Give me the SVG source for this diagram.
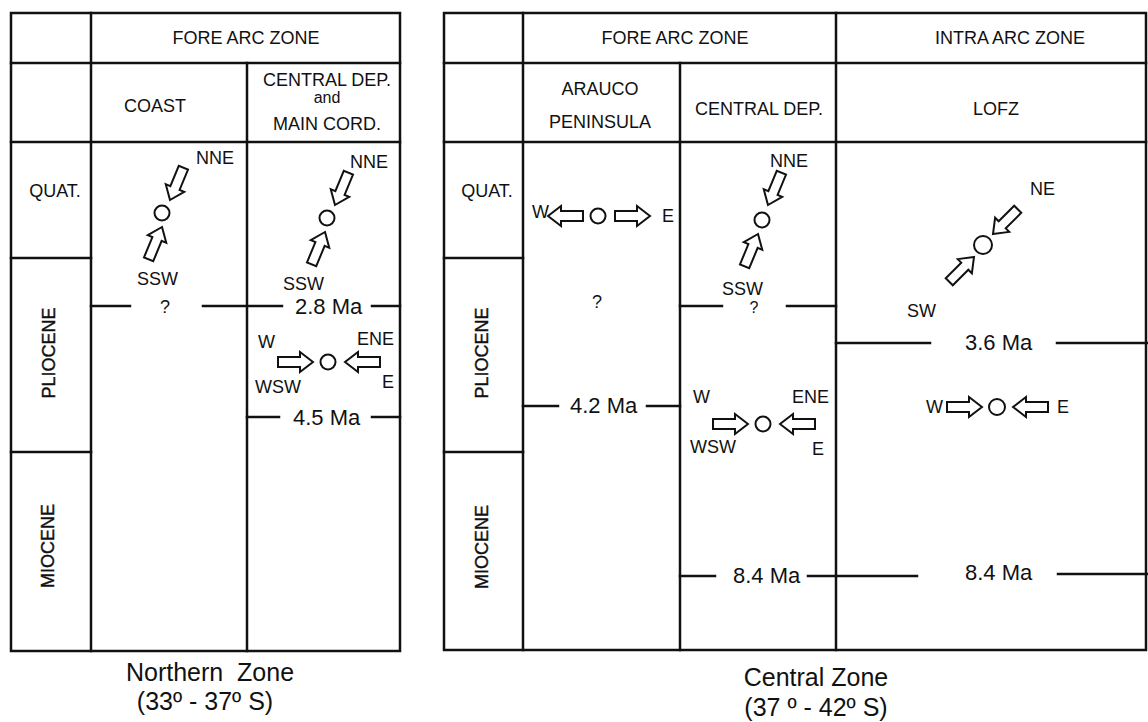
<svg xmlns="http://www.w3.org/2000/svg" xmlns:xlink="http://www.w3.org/1999/xlink" width="1148" height="722" viewBox="0 0 1148 722">
<style>
.ln{stroke:#111;stroke-width:2.5;fill:none;stroke-linecap:square}
.t{font-family:"Liberation Sans",Arial,sans-serif;fill:#111;font-size:18px}
.c{text-anchor:middle}
.ma{font-size:22px}
.cap{font-size:25px;text-anchor:middle}
.ep{text-anchor:middle;dominant-baseline:central;font-size:18px;stroke:#111;stroke-width:0.4}
.ar{fill:#fff;stroke:#111;stroke-width:2;stroke-linejoin:miter}
.ci{fill:#fff;stroke:#111;stroke-width:2}
</style>
<defs>
<path id="arr" d="M0,0 L-13,-10 L-13,-5 L-35,-5 L-35,5 L-13,5 L-13,10 Z"/>
</defs>
<rect width="1148" height="722" fill="#fff"/>

<g id="northern-zone">
  <g id="north-grid" class="ln">
    <rect x="11" y="13" width="389" height="638"/>
    <line x1="11" y1="63" x2="400" y2="63"/>
    <line x1="11" y1="142" x2="400" y2="142"/>
    <line x1="91" y1="13" x2="91" y2="651"/>
    <line x1="247" y1="63" x2="247" y2="651"/>
    <line x1="11" y1="258" x2="91" y2="258"/>
    <line x1="11" y1="452" x2="91" y2="452"/>
  </g>
  <g id="north-headers" class="t">
    <text x="246" y="44" class="c">FORE ARC ZONE</text>
    <text x="155" y="112" class="c">COAST</text>
    <text x="327" y="86" class="c">CENTRAL DEP.</text>
    <text x="327" y="103" class="c" style="font-size:16px">and</text>
    <text x="327" y="130" class="c">MAIN CORD.</text>
    <text x="55" y="197" class="c">QUAT.</text>
    <text class="ep" transform="translate(49,353) rotate(-90)">PLIOCENE</text>
    <text class="ep" transform="translate(48,546) rotate(-90)">MIOCENE</text>
  </g>
  <g id="north-coast">
    <text class="t" x="196" y="164">NNE</text>
    <use href="#arr" class="ar" transform="translate(170,200) rotate(112.5)"/>
    <circle class="ci" cx="162" cy="213" r="7.5"/>
    <use href="#arr" class="ar" transform="translate(162,227) rotate(-67.5)"/>
    <text class="t" x="137" y="285">SSW</text>
    <line class="ln" x1="91" y1="306" x2="130" y2="306"/>
    <text class="t c" x="165" y="313">?</text>
    <line class="ln" x1="203" y1="306" x2="282" y2="306"/>
  </g>
  <g id="north-central-dep">
    <text class="t" x="350" y="168">NNE</text>
    <use href="#arr" class="ar" transform="translate(335,205) rotate(112.5)"/>
    <circle class="ci" cx="327" cy="218" r="7.5"/>
    <use href="#arr" class="ar" transform="translate(325,232) rotate(-67.5)"/>
    <text class="t" x="283" y="290">SSW</text>
    <text class="t ma" x="295" y="314">2.8 Ma</text>
    <line class="ln" x1="372" y1="306" x2="400" y2="306"/>
    <text class="t" x="258" y="348">W</text>
    <text class="t" x="357" y="345">ENE</text>
    <use href="#arr" class="ar" transform="translate(313,362)"/>
    <circle class="ci" cx="328" cy="362" r="7.5"/>
    <use href="#arr" class="ar" transform="translate(345,362) rotate(180)"/>
    <text class="t" x="255" y="393">WSW</text>
    <text class="t" x="382" y="388">E</text>
    <line class="ln" x1="247" y1="417" x2="279" y2="417"/>
    <text class="t ma" x="293" y="425">4.5 Ma</text>
    <line class="ln" x1="372" y1="417" x2="400" y2="417"/>
  </g>
  <text class="t cap" x="210" y="681" xml:space="preserve">Northern  Zone</text>
  <text class="t cap" x="205" y="710">(33º - 37º S)</text>
</g>

<g id="central-zone">
  <g id="central-grid" class="ln">
    <rect x="444" y="13" width="702" height="637"/>
    <line x1="444" y1="63" x2="1146" y2="63"/>
    <line x1="444" y1="142" x2="1146" y2="142"/>
    <line x1="523" y1="13" x2="523" y2="650"/>
    <line x1="680" y1="63" x2="680" y2="650"/>
    <line x1="836" y1="13" x2="836" y2="650"/>
    <line x1="444" y1="258" x2="523" y2="258"/>
    <line x1="444" y1="452" x2="523" y2="452"/>
  </g>
  <g id="central-headers" class="t">
    <text x="675" y="44" class="c">FORE ARC ZONE</text>
    <text x="1010" y="44" class="c">INTRA ARC ZONE</text>
    <text x="600" y="95" class="c">ARAUCO</text>
    <text x="600" y="128" class="c">PENINSULA</text>
    <text x="759" y="115" class="c">CENTRAL DEP.</text>
    <text x="996" y="115" class="c">LOFZ</text>
    <text x="487" y="197" class="c">QUAT.</text>
    <text class="ep" transform="translate(482,353) rotate(-90)">PLIOCENE</text>
    <text class="ep" transform="translate(482,547) rotate(-90)">MIOCENE</text>
  </g>
  <g id="central-arauco">
    <text class="t" x="532" y="218">W</text>
    <use href="#arr" class="ar" transform="translate(548,216) rotate(180)"/>
    <circle class="ci" cx="598" cy="216" r="7.5"/>
    <use href="#arr" class="ar" transform="translate(650,216)"/>
    <text class="t" x="662" y="222">E</text>
    <text class="t c" x="597" y="308">?</text>
    <line class="ln" x1="523" y1="406" x2="558" y2="406"/>
    <text class="t ma" x="570" y="413">4.2 Ma</text>
    <line class="ln" x1="647" y1="406" x2="680" y2="406"/>
  </g>
  <g id="central-dep">
    <text class="t" x="770" y="167">NNE</text>
    <use href="#arr" class="ar" transform="translate(768,205) rotate(112.5)"/>
    <circle class="ci" cx="762" cy="220" r="7.5"/>
    <use href="#arr" class="ar" transform="translate(758,234) rotate(-67.5)"/>
    <text class="t" x="722" y="295">SSW</text>
    <line class="ln" x1="680" y1="306" x2="722" y2="306"/>
    <text class="t c" x="754" y="313" style="font-size:16px">?</text>
    <line class="ln" x1="787" y1="306" x2="836" y2="306"/>
    <text class="t" x="693" y="403">W</text>
    <text class="t" x="792" y="403">ENE</text>
    <use href="#arr" class="ar" transform="translate(748,424)"/>
    <circle class="ci" cx="763" cy="424" r="7.5"/>
    <use href="#arr" class="ar" transform="translate(780,424) rotate(180)"/>
    <text class="t" x="690" y="453">WSW</text>
    <text class="t" x="812" y="455">E</text>
    <line class="ln" x1="680" y1="576" x2="715" y2="576"/>
    <text class="t ma" x="733" y="583">8.4 Ma</text>
    <line class="ln" x1="808" y1="576" x2="917" y2="576"/>
  </g>
  <g id="central-lofz">
    <text class="t" x="1030" y="195">NE</text>
    <use href="#arr" class="ar" transform="translate(993,234) rotate(135)"/>
    <circle class="ci" cx="983" cy="245" r="9"/>
    <use href="#arr" class="ar" transform="translate(974,257) rotate(-45)"/>
    <text class="t" x="907" y="317">SW</text>
    <line class="ln" x1="836" y1="343" x2="930" y2="343"/>
    <text class="t ma" x="965" y="350">3.6 Ma</text>
    <line class="ln" x1="1057" y1="343" x2="1148" y2="343"/>
    <text class="t" x="926" y="413">W</text>
    <use href="#arr" class="ar" transform="translate(982,407)"/>
    <circle class="ci" cx="997" cy="407" r="8"/>
    <use href="#arr" class="ar" transform="translate(1013,407) rotate(180)"/>
    <text class="t" x="1057" y="413">E</text>
    <text class="t ma" x="965" y="580">8.4 Ma</text>
    <line class="ln" x1="1058" y1="574" x2="1148" y2="574"/>
  </g>
  <text class="t cap" x="816" y="686">Central Zone</text>
  <text class="t cap" x="816" y="716">(37 º - 42º S)</text>
</g>
</svg>
